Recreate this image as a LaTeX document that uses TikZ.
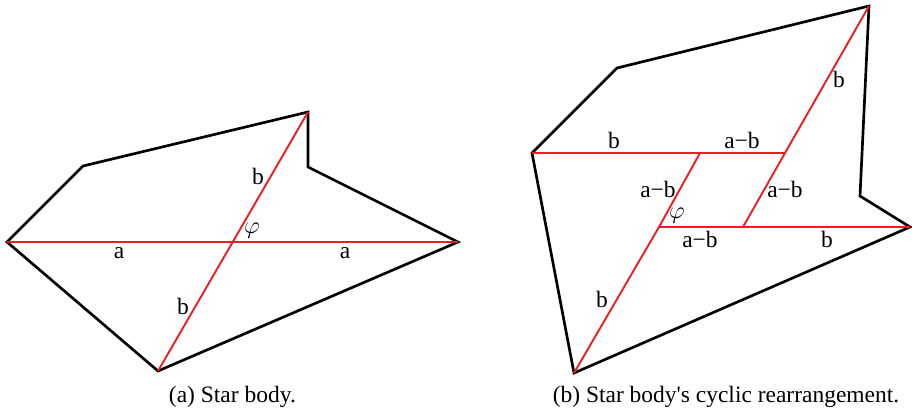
\documentclass[tikz,border=0pt]{standalone}
\usepackage{fontspec}
\setmainfont{Liberation Serif}
\definecolor{cutred}{RGB}{238,28,36}

\begin{document}
\begin{tikzpicture}[
    outline/.style={line width=1.9pt, black},
    cut/.style={line width=1.35pt, cutred},
    lbl/.style={font=\fontsize{16.7}{20}\selectfont, inner sep=0pt}
  ]
  \useasboundingbox (0,0) rectangle (22.8,10.35);
  % (a) star body
  \coordinate (aL) at (0.175, 4.3);
  \coordinate (aUL) at (2.075, 6.2);
  \coordinate (aT) at (7.7, 7.55);
  \coordinate (aN) at (7.7, 6.175);
  \coordinate (aR) at (11.45, 4.3);
  \coordinate (aB) at (3.95, 1.075);
  \draw[outline] (aL) -- (aUL) -- (aT) -- (aN) -- (aR) -- (aB) -- cycle;
  \draw[cut] (aL) -- (aR);
  \draw[cut] (aT) -- (aB);
  \node[lbl] (ab1) at (6.45, 5.95) {b};
  \node[lbl] (aphi) at (6.3, 4.575) {$\varphi$};
  \node[lbl] (aa1) at (2.975, 4.025) {a};
  \node[lbl] (aa2) at (8.625, 4.025) {a};
  \node[lbl] (ab2) at (4.575, 2.7) {b};
  \node[lbl] (acap) at (5.81, 0.425) {(a) Star body.};
  % (b) cyclic rearrangement
  \coordinate (bL) at (13.3, 6.525);
  \coordinate (bUL) at (15.425, 8.65);
  \coordinate (bT) at (21.725, 10.2);
  \coordinate (bN) at (21.5, 5.45);
  \coordinate (bR) at (22.75, 4.675);
  \coordinate (bB) at (14.35, 1.025);
  \coordinate (bJ1) at (17.5, 6.525);
  \coordinate (bJ2) at (19.625, 6.525);
  \coordinate (bK1) at (16.475, 4.675);
  \coordinate (bK2) at (18.575, 4.675);
  \draw[outline] (bL) -- (bUL) -- (bT) -- (bN) -- (bR) -- (bB) -- cycle;
  \draw[cut] (bL) -- (bJ2);
  \draw[cut] (bK1) -- (bR);
  \draw[cut] (bT) -- (bJ2) -- (bK2);
  \draw[cut] (bJ1) -- (bK1) -- (bB);
  \node[lbl] (bb1) at (15.35, 6.85) {b};
  \node[lbl] (bab1) at (18.55, 6.85) {a−b};
  \node[lbl] (bb2) at (20.975, 8.375) {b};
  \node[lbl] (bab2) at (16.45, 5.625) {a−b};
  \node[lbl] (bab3) at (19.625, 5.625) {a−b};
  \node[lbl] (bphi) at (16.925, 4.95) {$\varphi$};
  \node[lbl] (bab4) at (17.5, 4.375) {a−b};
  \node[lbl] (bb3) at (20.675, 4.375) {b};
  \node[lbl] (bb4) at (15.05, 2.875) {b};
  \node[lbl] (bcap) at (18.15, 0.425) {(b) Star body\textquotesingle s cyclic rearrangement.};
\end{tikzpicture}
\end{document}
